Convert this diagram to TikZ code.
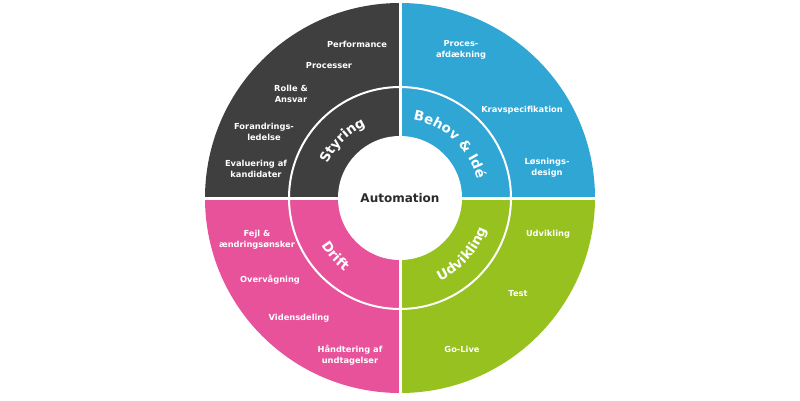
\documentclass[tikz,border=0pt]{standalone}
\usepackage{fontspec}
\setmainfont{DejaVu Sans}
\usetikzlibrary{decorations.text}
\definecolor{cDark}{HTML}{3F3F3F}
\definecolor{cBlue}{HTML}{2FA6D4}
\definecolor{cPink}{HTML}{E8529A}
\definecolor{cGreen}{HTML}{96C11F}
\definecolor{cText}{HTML}{2B2B2B}
\begin{document}
\begin{tikzpicture}[x=1pt,y=1pt,
  outer/.style={text=white,font=\bfseries\fontsize{8.3}{10.8}\selectfont,align=center,inner sep=0pt},
  ringtext/.style={decorate,decoration={text along path,text align=center,text color=white,
     text={|\bfseries\fontsize{13.5}{15}\selectfont|#1}}}]
\useasboundingbox (0,0) rectangle (800,400);
\coordinate (c) at (400,202);
\fill[cDark]  (c) -- ++(180:195) arc (180:90:195) -- cycle;
\fill[cBlue]  (c) -- ++(90:195) arc (90:0:195) -- cycle;
\fill[cGreen] (c) -- ++(0:195) arc (0:-90:195) -- cycle;
\fill[cPink]  (c) -- ++(-90:195) arc (-90:-180:195) -- cycle;
\draw[white,line width=3pt] (200,202) -- (600,202);
\draw[white,line width=3pt] (400,0) -- (400,400);
\draw[white,line width=2pt] (c) circle (111);
\fill[white] (c) circle (62);
\node[text=cText,font=\bfseries\fontsize{12}{14}\selectfont,inner sep=0pt] (auto) at (c) {Automation};
% ring labels
\path[ringtext={Styring}] (c) ++(180:80) arc (180:90:80);
\path[ringtext={Behov {\&} Idé}] (c) ++(105:79) arc (105:-11:79);
\path[ringtext={Drift}] (c) ++(180:92) arc (180:264:92);
\path[ringtext={Udvikling}] (c) ++(270:92) arc (270:366:92);
% outer labels
\node[outer] (perf) at (357,356) {Performance};
\node[outer] (proc) at (329,334) {Processer};
\node[outer] (rolle) at (291,306) {Rolle \&\\Ansvar};
\node[outer] (foran) at (264,268) {Forandrings-\\ledelse};
\node[outer] (eval) at (256,231) {Evaluering af\\kandidater};
\node[outer] (pafd) at (461,350) {Proces-\\afdækning};
\node[outer] (krav) at (522,290) {Kravspecifikation};
\node[outer] (losn) at (547,232) {Løsnings-\\design};
\node[outer] (fejl) at (257,160) {Fejl \&\\ændringsønsker};
\node[outer] (overv) at (270,120) {Overvågning};
\node[outer] (viden) at (299,82) {Vidensdeling};
\node[outer] (haand) at (350,45) {Håndtering af\\undtagelser};
\node[outer] (udv) at (548,166) {Udvikling};
\node[outer] (test) at (518,106) {Test};
\node[outer] (golive) at (462,51) {Go-Live};
\end{tikzpicture}
\end{document}
